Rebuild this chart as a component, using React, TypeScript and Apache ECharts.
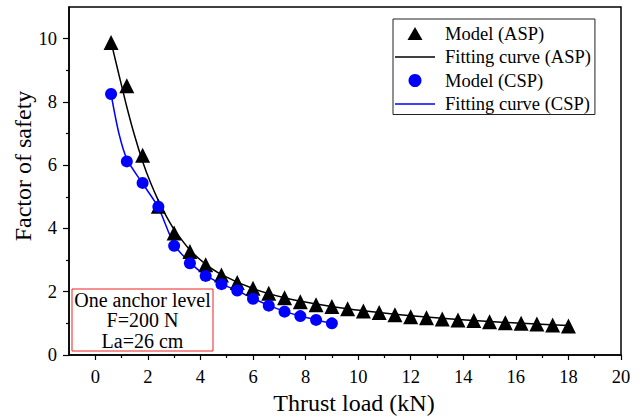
import React, { useEffect, useRef } from "react";
import * as echarts from "echarts";

// Model points
const aspX = [0.6, 1.2, 1.8, 2.4, 3.0, 3.6, 4.2, 4.8, 5.4, 6.0, 6.6, 7.2, 7.8, 8.4, 9.0, 9.6, 10.2, 10.8, 11.4, 12.0, 12.6, 13.2, 13.8, 14.4, 15.0, 15.6, 16.2, 16.8, 17.4, 18.0];
const aspY = [9.88, 8.51, 6.31, 4.7, 3.86, 3.27, 2.85, 2.53, 2.29, 2.11, 1.95, 1.81, 1.68, 1.59, 1.53, 1.46, 1.39, 1.34, 1.27, 1.21, 1.18, 1.14, 1.11, 1.09, 1.05, 1.02, 1.0, 0.98, 0.95, 0.92];
const cspX = [0.6, 1.2, 1.8, 2.4, 3.0, 3.6, 4.2, 4.8, 5.4, 6.0, 6.6, 7.2, 7.8, 8.4, 9.0];
const cspY = [8.25, 6.12, 5.44, 4.69, 3.45, 2.9, 2.5, 2.24, 2.04, 1.78, 1.56, 1.37, 1.23, 1.11, 1.0];

// Fitting curves
const fitAspX = [0.6, 0.9, 1.2, 1.5, 1.8, 2.1, 2.4, 2.7, 3.0, 3.6, 4.2, 4.8, 6.0, 7.2, 8.4, 9.6, 10.8, 12.0, 13.2, 14.4, 15.6, 16.8, 18.0];
const fitAspY = [9.9, 8.86, 7.84, 6.92, 6.12, 5.45, 4.88, 4.39, 3.97, 3.32, 2.87, 2.54, 2.1, 1.81, 1.61, 1.46, 1.34, 1.24, 1.16, 1.09, 1.03, 0.98, 0.93];
const fitCspX = [0.6, 0.9, 1.2, 1.8, 2.4, 3.0, 3.6, 4.2, 4.8, 5.4, 6.0, 6.6, 7.2, 7.8, 8.4, 9.0];
const fitCspY = [8.25, 7.0, 6.2, 5.42, 4.66, 3.5, 2.92, 2.52, 2.25, 2.03, 1.79, 1.57, 1.38, 1.23, 1.11, 1.0];

const xMajorTicks = [0, 2, 4, 6, 8, 10, 12, 14, 16, 18, 20];
const xMinorTicks = [1, 3, 5, 7, 9, 11, 13, 15, 17, 19];
const yMajorTicks = [0, 2, 4, 6, 8, 10];
const yMinorTicks = [1, 3, 5, 7, 9];

const seriesNames = ["Model (ASP)", "Fitting curve (ASP)", "Model (CSP)", "Fitting curve (CSP)"];
const noteLines = ["One anchor level", "F=200 N", "La=26 cm"];

const FONT = "Liberation Serif";

export default function App() {
  const ref = useRef<HTMLDivElement>(null);
  useEffect(() => {
    const chart = echarts.init(ref.current!, null, { renderer: "svg" });
    const asp = aspX.map((x, i) => [x, aspY[i]]);
    const csp = cspX.map((x, i) => [x, cspY[i]]);
    const fitAsp = fitAspX.map((x, i) => [x, fitAspY[i]]);
    const fitCsp = fitCspX.map((x, i) => [x, fitCspY[i]]);
    const gridBox = { left: 69, right: 22, top: 7, bottom: 63, containLabel: false, outerBoundsMode: "none" };
    const baseX = { type: "value", min: -1, max: 20, splitLine: { show: false } };
    const baseY = { type: "value", min: 0, max: 11, splitLine: { show: false } };
    const lineIcon = "path://M0,0L40,0L40,1.5L0,1.5Z";
    const triIcon = "path://M7.5,0L15,13L0,13Z";
    chart.setOption({
      animation: false,
      backgroundColor: "#fff",
      grid: [
        { ...gridBox, show: true, borderColor: "#000", borderWidth: 1.5 },
        { ...gridBox, show: false },
      ],
      xAxis: [
        {
          ...baseX,
          gridIndex: 0,
          position: "bottom",
          name: "Thrust load (kN)",
          nameLocation: "middle",
          nameGap: 36,
          nameMoveOverlap: false,
          nameTextStyle: { fontFamily: FONT, fontSize: 24, color: "#000", padding: [0, 0, 0, 18] },
          axisLine: { show: true, onZero: false, lineStyle: { color: "#000", width: 1.5 } },
          axisTick: { show: true, customValues: xMajorTicks, length: 5, lineStyle: { color: "#000", width: 1.2 } },
          axisLabel: { customValues: xMajorTicks, fontFamily: FONT, fontSize: 18.5, color: "#000", margin: 12 },
        },
        {
          ...baseX,
          gridIndex: 1,
          position: "bottom",
          axisLine: { show: false, onZero: false },
          axisTick: { show: true, customValues: xMinorTicks, length: 3, lineStyle: { color: "#000", width: 1.2 } },
          axisLabel: { show: false },
        },
      ],
      yAxis: [
        {
          ...baseY,
          gridIndex: 0,
          position: "left",
          name: "Factor of safety",
          nameLocation: "middle",
          nameGap: 34,
          nameMoveOverlap: false,
          nameTextStyle: { fontFamily: FONT, fontSize: 24, color: "#000", padding: [0, 0, 0, 30] },
          axisLine: { show: true, onZero: false, lineStyle: { color: "#000", width: 1.5 } },
          axisTick: { show: true, customValues: yMajorTicks, length: 6, lineStyle: { color: "#000", width: 1.2 } },
          axisLabel: { customValues: yMajorTicks, fontFamily: FONT, fontSize: 18.5, color: "#000", margin: 12 },
        },
        {
          ...baseY,
          gridIndex: 1,
          position: "left",
          axisLine: { show: false, onZero: false },
          axisTick: { show: true, customValues: yMinorTicks, length: 3, lineStyle: { color: "#000", width: 1.2 } },
          axisLabel: { show: false },
        },
      ],
      legend: {
        orient: "vertical",
        left: 393,
        top: 19,
        padding: [5, 4, 1, 2],
        itemGap: 4.5,
        itemWidth: 40,
        itemHeight: 13,
        borderColor: "#222",
        borderWidth: 1,
        backgroundColor: "#fff",
        textStyle: { fontFamily: FONT, fontSize: 18.5, color: "#000", lineHeight: 17, padding: [0, 0, 0, 5] },
        data: [
          { name: seriesNames[0], icon: triIcon, itemStyle: { color: "#000", opacity: 1 } },
          { name: seriesNames[1], icon: lineIcon, itemStyle: { color: "#000" } },
          { name: seriesNames[2], icon: "circle", itemStyle: { color: "#0000ff", opacity: 1 } },
          { name: seriesNames[3], icon: lineIcon, itemStyle: { color: "#0000ff" } },
        ],
      },
      series: [
        {
          name: seriesNames[1],
          type: "line",
          xAxisIndex: 0,
          yAxisIndex: 0,
          data: fitAsp,
          smooth: 0.3,
          symbol: "none",
          showSymbol: false,
          lineStyle: { color: "#000", width: 1.5 },
          itemStyle: { color: "#000" },
          z: 2,
        },
        {
          name: seriesNames[3],
          type: "line",
          xAxisIndex: 0,
          yAxisIndex: 0,
          data: fitCsp,
          smooth: 0.3,
          symbol: "none",
          showSymbol: false,
          lineStyle: { color: "#0000ff", width: 1.5 },
          itemStyle: { color: "#0000ff" },
          z: 2,
        },
        {
          name: seriesNames[0],
          type: "scatter",
          xAxisIndex: 0,
          yAxisIndex: 0,
          data: asp,
          symbol: "triangle",
          symbolSize: 15,
          itemStyle: { color: "#000", opacity: 1 },
          z: 3,
        },
        {
          name: seriesNames[2],
          type: "scatter",
          xAxisIndex: 0,
          yAxisIndex: 0,
          data: csp,
          symbol: "circle",
          symbolSize: 12,
          itemStyle: { color: "#0000ff", opacity: 1 },
          z: 4,
        },
      ],
      graphic: [
        {
          type: "rect",
          shape: { x: 72, y: 289, width: 141, height: 62 },
          style: { fill: "#fff", stroke: "#ee2222", lineWidth: 1 },
          z: 10,
        },
        {
          type: "text",
          x: 142.5,
          y: 320,
          z: 11,
          style: {
            text: noteLines.join("\n"),
            fontFamily: FONT,
            fontSize: 20,
            lineHeight: 20.5,
            align: "center",
            verticalAlign: "middle",
            fill: "#000",
          },
        },
      ],
    });
    return () => chart.dispose();
  }, []);
  return (
    <div
      ref={ref}
      style={{ position: "fixed", left: 0, top: 0, width: 643, height: 418, background: "#fff" }}
    />
  );
}
